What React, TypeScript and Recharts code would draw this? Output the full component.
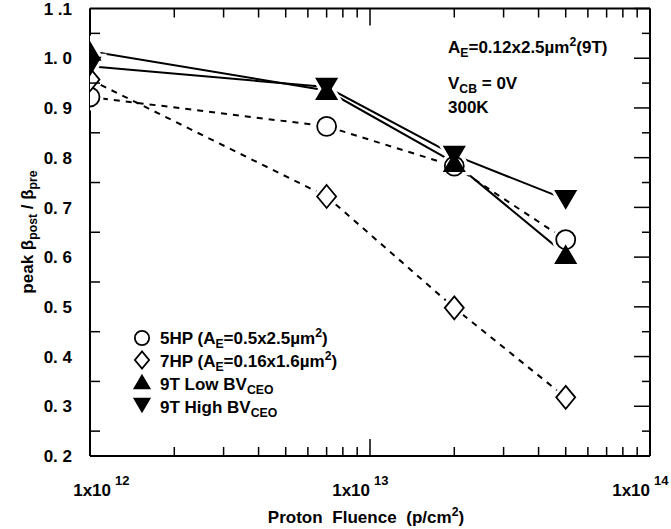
import React from 'react';
import { ComposedChart, Line, XAxis, YAxis } from 'recharts';

// ---------- data ----------
const fluence = [1e12, 7e12, 2e13, 5e13];
const hp5 = [0.922, 0.863, 0.783, 0.635];
const hp7 = [0.957, 0.722, 0.498, 0.318];
const low9T = [1.014, 0.935, 0.79, 0.605];
const high9T = [0.984, 0.942, 0.805, 0.716];

const xMajorTicks = [1e12, 1e13, 1e14];
const xMajorExponents = ['12', '13', '14'];
const xMinorTicks = [2e12, 3e12, 4e12, 5e12, 6e12, 7e12, 8e12, 9e12, 2e13, 3e13, 4e13, 5e13, 6e13, 7e13, 8e13, 9e13];
const yMajorTicks = [0.2, 0.3, 0.4, 0.5, 0.6, 0.7, 0.8, 0.9, 1.0, 1.1];
const yMajorLabels = ['0. 2', '0. 3', '0. 4', '0. 5', '0. 6', '0. 7', '0. 8', '0. 9', '1. 0', '1 .1'];
const yMinorTicks = [0.25, 0.35, 0.45, 0.55, 0.65, 0.75, 0.85, 0.95, 1.05];

const seriesNames = ['5HP', '7HP', '9T Low', '9T High'];

const data = fluence.map((f, i) => ({ f, hp5: hp5[i], hp7: hp7[i], low9T: low9T[i], high9T: high9T[i] }));
const xAllTicks = [...xMajorTicks, ...xMinorTicks].sort((a, b) => a - b);
const yAllTicks = [...yMajorTicks, ...yMinorTicks].sort((a, b) => a - b);

const FONT = "'Liberation Sans', Arial, Helvetica, sans-serif";

// ---------- helpers ----------
type Kind = 'circle' | 'diamond' | 'up' | 'down';

function Marker({ kind, cx, cy, s = 1, halo = false }: { kind: Kind; cx: number; cy: number; s?: number; halo?: boolean }) {
  const filled = kind === 'up' || kind === 'down';
  const st = halo
    ? { fill: '#fff', stroke: '#fff', strokeWidth: 8 }
    : { fill: filled ? '#000' : '#fff', stroke: '#000', strokeWidth: 1.8 };
  if (kind === 'circle') return <circle cx={cx} cy={cy} r={9.5 * s} {...st} />;
  if (kind === 'diamond') {
    const w = 9.5 * s, h = 11.5 * s;
    return <polygon points={`${cx},${cy - h} ${cx + w},${cy} ${cx},${cy + h} ${cx - w},${cy}`} {...st} />;
  }
  const w = 10 * s, h = 8.5 * s;
  if (kind === 'up') return <polygon points={`${cx},${cy - h} ${cx + w},${cy + h} ${cx - w},${cy + h}`} {...st} />;
  return <polygon points={`${cx - w},${cy - h} ${cx + w},${cy - h} ${cx},${cy + h}`} {...st} />;
}

type Seg = [string, '' | 'sub' | 'sup'];
function RichText({ x, y, segs, size, anchor = 'start', transform, wordSpacing = 0 }: { x: number; y: number; segs: Seg[]; size: number; anchor?: string; transform?: string; wordSpacing?: number }) {
  let shift = 0;
  const spans = segs.map(([t, k], i) => {
    const target = k === 'sub' ? size * 0.25 : k === 'sup' ? -size * 0.4 : 0;
    const dy = target - shift;
    shift = target;
    return (
      <tspan key={i} dy={dy} fontSize={k ? size * 0.72 : size}>
        {t}
      </tspan>
    );
  });
  return (
    <text x={x} y={y} fontSize={size} fontWeight="bold" fontFamily={FONT} textAnchor={anchor as any} transform={transform} fill="#000" style={{ wordSpacing }}>
      {spans}
    </text>
  );
}

const isMajorX = (v: number) => xMajorTicks.some((m) => Math.abs(m - v) / m < 1e-6);
const xLabelShift = (v: number) => (Math.abs(v - 1e12) < 1 ? 21 : 0);
const isMajorY = (v: number) => yMajorTicks.some((m) => Math.abs(m - v) < 1e-6);

const BottomTick = (props: any) => {
  const { x, y, payload } = props;
  const v = payload.value;
  const major = isMajorX(v);
  const idx = xMajorTicks.findIndex((m) => Math.abs(m - v) / m < 1e-6);
  const sx = x + xLabelShift(v);
  return (
    <g>
      <line x1={x} x2={x} y1={y} y2={y - (major ? 17 : 9)} stroke="#000" strokeWidth={1.5} />
      {major && (
        <text y={y + 40} fontFamily={FONT} fontWeight="bold" fill="#000">
          <tspan x={sx} textAnchor="end" fontSize={17}>1x10</tspan>
          <tspan x={sx + 4} dy={-11} textAnchor="start" fontSize={13}>{xMajorExponents[idx]}</tspan>
        </text>
      )}
    </g>
  );
};

const TopTick = (props: any) => {
  const { x, y, payload } = props;
  const major = isMajorX(payload.value);
  return <line x1={x} x2={x} y1={y} y2={y + (major ? 17 : 9)} stroke="#000" strokeWidth={1.5} />;
};

const LeftTick = (props: any) => {
  const { x, y, payload } = props;
  const v = payload.value;
  const idx = yMajorTicks.findIndex((m) => Math.abs(m - v) < 1e-6);
  if (idx >= 0) {
    return (
      <text x={72} y={y} dy="0.36em" textAnchor="end" fontSize={17} fontWeight="bold" fontFamily={FONT} fill="#000" style={{ whiteSpace: 'pre' }}>
        {yMajorLabels[idx]}
      </text>
    );
  }
  return <line x1={x} x2={x + 10} y1={y} y2={y} stroke="#000" strokeWidth={1.5} />;
};

const RightTick = (props: any) => {
  const { x, y, payload } = props;
  const major = isMajorY(payload.value);
  return <line x1={x} x2={x - (major ? 16 : 8)} y1={y} y2={y} stroke="#000" strokeWidth={1.5} />;
};

const kinds: Kind[] = ['circle', 'diamond', 'up', 'down'];
const keys = ['hp5', 'hp7', 'low9T', 'high9T'];
const dashes = ['6 6', '6 6', undefined, undefined];

const legendRows: { kind: Kind; segs: Seg[] }[] = [
  { kind: 'circle', segs: [[seriesNames[0] + ' (A', ''], ['E', 'sub'], ['=0.5x2.5\u00b5m', ''], ['2', 'sup'], [')', '']] },
  { kind: 'diamond', segs: [[seriesNames[1] + ' (A', ''], ['E', 'sub'], ['=0.16x1.6\u00b5m', ''], ['2', 'sup'], [')', '']] },
  { kind: 'up', segs: [[seriesNames[2] + ' BV', ''], ['CEO', 'sub']] },
  { kind: 'down', segs: [[seriesNames[3] + ' BV', ''], ['CEO', 'sub']] },
];
const legendMarkerY = [338, 360, 382, 405];
const legendTextY = [344, 367, 390, 413];

export default function App() {
  return (
    <div style={{ position: 'absolute', left: 0, top: 0, width: 671, height: 529, background: '#fff' }}>
      <ComposedChart width={671} height={529} data={data} margin={{ top: 0, right: 0, bottom: 0, left: 0 }}>
        <XAxis
          dataKey="f"
          type="number"
          scale="log"
          domain={[1e12, 1e14]}
          ticks={xAllTicks}
          interval={0}
          allowDataOverflow
          orientation="bottom"
          height={73}
          tickSize={0}
          tickMargin={0}
          tickLine={false}
          axisLine={{ stroke: '#000', strokeWidth: 2 }}
          tick={(p: any) => <BottomTick {...p} />}
        />
        <XAxis
          xAxisId="top"
          dataKey="f"
          type="number"
          scale="log"
          domain={[1e12, 1e14]}
          ticks={xAllTicks}
          interval={0}
          allowDataOverflow
          orientation="top"
          height={8.5}
          tickSize={0}
          tickMargin={0}
          tickLine={false}
          axisLine={{ stroke: '#000', strokeWidth: 2 }}
          tick={(p: any) => <TopTick {...p} />}
        />
        <YAxis
          type="number"
          domain={[0.2, 1.1]}
          ticks={yAllTicks}
          interval={0}
          allowDataOverflow
          width={90}
          tickSize={0}
          tickMargin={0}
          tickLine={false}
          axisLine={{ stroke: '#000', strokeWidth: 2 }}
          tick={(p: any) => <LeftTick {...p} />}
        />
        <YAxis
          yAxisId="right"
          orientation="right"
          type="number"
          domain={[0.2, 1.1]}
          ticks={yAllTicks}
          interval={0}
          allowDataOverflow
          width={21}
          tickSize={0}
          tickMargin={0}
          tickLine={false}
          axisLine={{ stroke: '#000', strokeWidth: 2 }}
          tick={(p: any) => <RightTick {...p} />}
        />

        {keys.map((k, i) => (
          <Line
            key={'l' + k}
            type="linear"
            dataKey={k}
            name={seriesNames[i]}
            stroke="#000"
            strokeWidth={2}
            strokeDasharray={dashes[i]}
            dot={false}
            activeDot={false}
            isAnimationActive={false}
          />
        ))}
        {keys.map((k, i) => (
          <Line
            key={'h' + k}
            type="linear"
            dataKey={k}
            stroke="none"
            legendType="none"
            dot={(p: any) => <Marker key={'h' + k + p.index} kind={kinds[i]} cx={p.cx} cy={p.cy} halo />}
            activeDot={false}
            isAnimationActive={false}
          />
        ))}
        {keys.map((k, i) => (
          <Line
            key={'m' + k}
            type="linear"
            dataKey={k}
            stroke="none"
            legendType="none"
            dot={(p: any) => <Marker key={'m' + k + p.index} kind={kinds[i]} cx={p.cx} cy={p.cy} />}
            activeDot={false}
            isAnimationActive={false}
          />
        ))}

        <g>
          <RichText x={448} y={53} size={17} segs={[['A', ''], ['E', 'sub'], ['=0.12x2.5\u00b5m', ''], ['2', 'sup'], ['(9T)', '']]} />
          <RichText x={448} y={89} size={17} segs={[['V', ''], ['CB', 'sub'], [' = 0V', '']]} />
          <RichText x={448} y={113} size={17} segs={[['300K', '']]} />

          {legendRows.map((r, i) => (
            <g key={i}>
              <Marker kind={r.kind} cx={142} cy={legendMarkerY[i]} s={0.75} />
              <RichText x={160} y={legendTextY[i]} size={17} segs={r.segs} />
            </g>
          ))}

          <RichText x={366} y={523} size={17} anchor="middle" wordSpacing={5} segs={[['Proton Fluence (p/cm', ''], ['2', 'sup'], [')', '']]} />
          <RichText
            x={0}
            y={0}
            size={17}
            anchor="middle"
            transform="translate(33,232) rotate(-90)"
            segs={[['peak \u03b2', ''], ['post', 'sub'], [' / \u03b2', ''], ['pre', 'sub']]}
          />
        </g>
      </ComposedChart>
    </div>
  );
}
